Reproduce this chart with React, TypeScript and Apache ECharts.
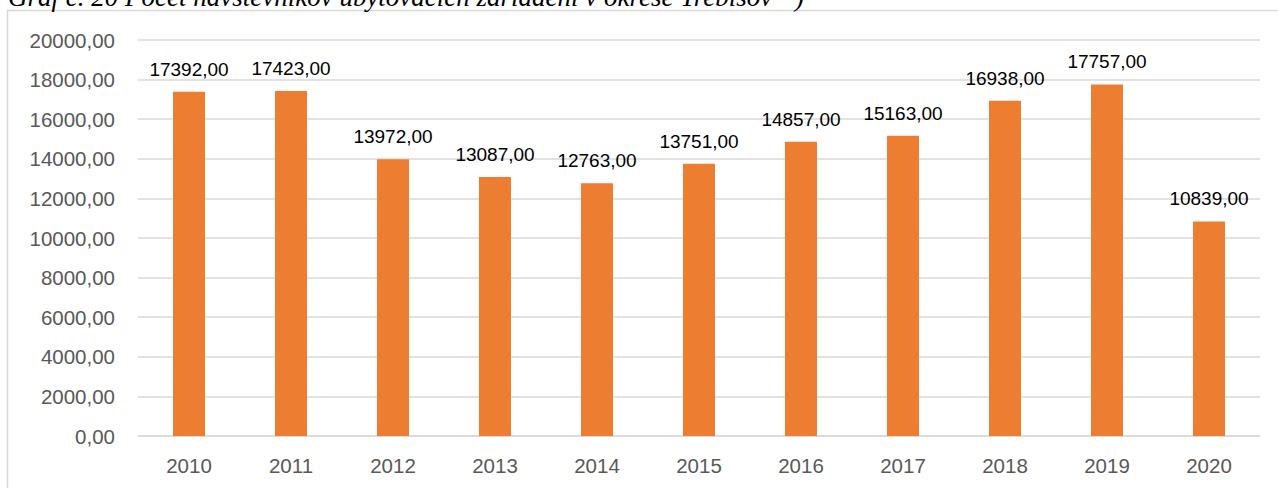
import React, { useEffect, useRef } from "react";
import * as echarts from "echarts";

const years = ["2010", "2011", "2012", "2013", "2014", "2015", "2016", "2017", "2018", "2019", "2020"];
const visitors = [17392, 17423, 13972, 13087, 12763, 13751, 14857, 15163, 16938, 17757, 10839];
const yMax = 20000;
const yInterval = 2000;
const caption = "Graf č. 20 Počet návštevníkov ubytovacích zariadení v okrese Trebišov";
const captionNote = "24";

const fmt = (v: number) => v.toFixed(2).replace(".", ",");

export default function App() {
  const ref = useRef<HTMLDivElement>(null);
  useEffect(() => {
    document.body.style.margin = "0";
    const chart = echarts.init(ref.current!, null, { renderer: "svg" });
    chart.setOption({
      animation: false,
      backgroundColor: "#ffffff",
      textStyle: { fontFamily: "Liberation Sans" },
      grid: { left: 138, right: 18, top: 40, bottom: 52 },
      xAxis: {
        type: "category",
        data: years,
        axisLine: { lineStyle: { color: "#d9d9d9", width: 1.5 } },
        axisTick: { show: false },
        axisLabel: { color: "#595959", fontSize: 20.5, margin: 19, fontFamily: "Liberation Sans" },
      },
      yAxis: {
        type: "value",
        min: 0,
        max: yMax,
        interval: yInterval,
        axisLine: { show: false },
        axisTick: { show: false },
        splitLine: { lineStyle: { color: "#d9d9d9", width: 1.5 } },
        axisLabel: { color: "#595959", fontSize: 20.5, margin: 23, formatter: (v: number) => fmt(v), fontFamily: "Liberation Sans" },
      },
      series: [
        {
          type: "bar",
          data: visitors,
          barWidth: 32,
          itemStyle: { color: "#ed7d31" },
          label: {
            show: true,
            position: "top",
            distance: 13,
            color: "#000000",
            fontSize: 19,
            fontFamily: "Liberation Sans",
            formatter: (p: any) => fmt(p.value),
          },
        },
      ],
      graphic: [
        {
          type: "rect",
          shape: { x: 7.5, y: 10.5, width: 1300, height: 600 },
          style: { fill: "none", stroke: "#d9d9d9", lineWidth: 1.5 },
          silent: true,
          z: -1,
        },
        {
          type: "text",
          x: 8,
          y: 10,
          style: {
            text: "{a|" + caption + " }{s|" + captionNote + "}{a|)}",
            rich: {
              a: { fontFamily: "Liberation Serif", fontStyle: "italic", fontSize: 27, fill: "#000" },
              s: { fontFamily: "Liberation Serif", fontStyle: "italic", fontSize: 16, fill: "#000", verticalAlign: "top" },
            },
            verticalAlign: "bottom",
          },
        },
      ],
    });
    return () => chart.dispose();
  }, []);
  return <div ref={ref} style={{ width: 1278, height: 488 }} />;
}
